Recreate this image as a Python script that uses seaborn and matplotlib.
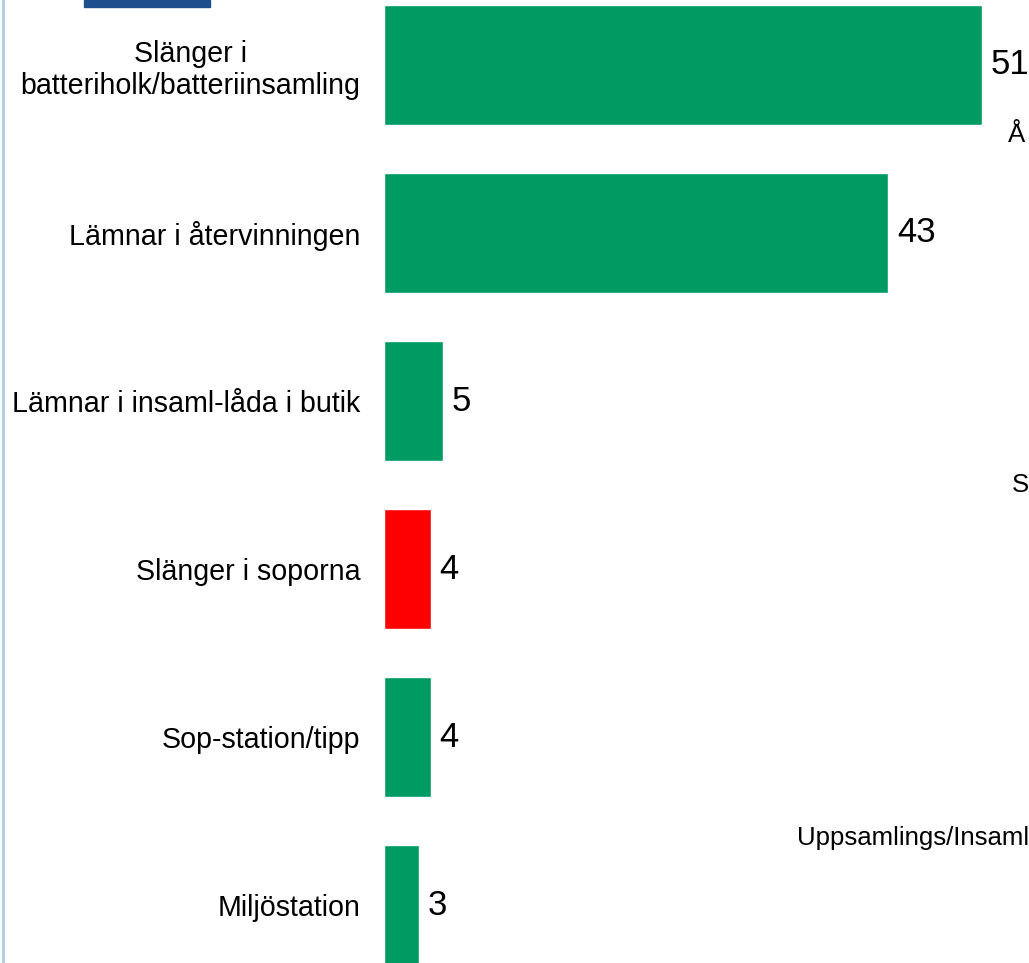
import matplotlib
matplotlib.use("Agg")
import matplotlib.pyplot as plt
import matplotlib.patches as patches
import seaborn as sns
import pandas as pd

# data (percent)
categories = ["Slänger i\nbatteriholk/batteriinsamling",
              "Lämnar i återvinningen",
              "Lämnar i insaml-låda i butik",
              "Slänger i soporna",
              "Sop-station/tipp",
              "Miljöstation"]
values = [51, 43, 5, 4, 4, 3]
bar_colors = ["#009B62", "#009B62", "#009B62", "#FF0000", "#009B62", "#009B62"]

# cut-off labels of a neighbouring chart visible at the right edge
side_texts = ["Å", "S", "Uppsamlings/Insaml"]

sns.set_theme(style="white")
plt.rcParams['font.family'] = ['Liberation Sans', 'DejaVu Sans']

df = pd.DataFrame({"kategori": categories, "andel": values})

fig = plt.figure(figsize=(10.29, 9.63), dpi=100)
ax = fig.add_axes([384 / 1029, 0, 1 - 384 / 1029, 1])

sns.barplot(data=df, x="andel", y="kategori", hue="kategori",
            palette=bar_colors, legend=False, width=0.714,
            saturation=1, ax=ax)

ax.set_xlim(0, 645 / 11.725)
ax.set_ylim((963 - 65) / 168, -65 / 168)
ax.set_xlabel("")
ax.set_ylabel("")
ax.set_xticks([])
for s in ax.spines.values():
    s.set_visible(False)
ax.tick_params(axis="y", length=0, pad=17, labelsize=20.6)
for lbl in ax.get_yticklabels():
    lbl.set_multialignment("center")
    lbl.set_color("black")

for i, v in enumerate(values):
    ax.text(v + 0.75, i, str(v), va="center", ha="left",
            fontsize=25, color="black")

# left border line and top decoration
fig.add_artist(plt.Line2D([3 / 1029, 3 / 1029], [0, 1], color="#A8CBE8", lw=2))
fig.add_artist(patches.Rectangle((84 / 1029, 1 - 7 / 963), 126 / 1029, 7 / 963,
                                 color="#1F4E8C", transform=fig.transFigure))

fig.text(1008 / 1029, 1 - 135 / 963, side_texts[0], fontsize=18.5,
         va="center", ha="left", color="black")
fig.text(1012 / 1029, 1 - 485 / 963, side_texts[1], fontsize=18.5,
         va="center", ha="left", color="black")
fig.text(797 / 1029, 1 - 838 / 963, side_texts[2], fontsize=18.5,
         va="center", ha="left", color="black")

fig.savefig("out.png", dpi=100)
